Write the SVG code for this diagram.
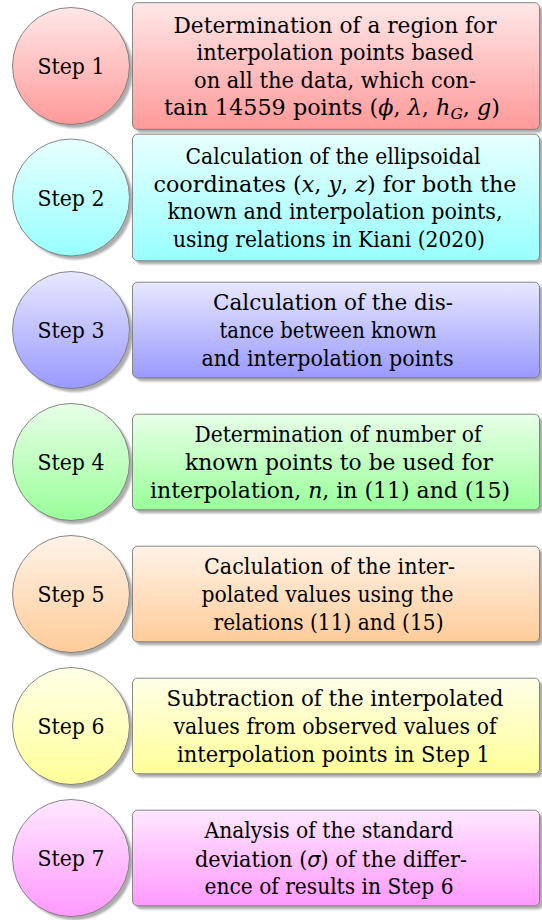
<svg xmlns="http://www.w3.org/2000/svg" width="542" height="920" viewBox="0 0 542 920">
<defs>
  <linearGradient id="gRed" x1="0" y1="0" x2="0" y2="1"><stop offset="0" stop-color="#ffe8e8"/><stop offset="1" stop-color="#ff9999"/></linearGradient>
  <linearGradient id="gCyan" x1="0" y1="0" x2="0" y2="1"><stop offset="0" stop-color="#e8ffff"/><stop offset="1" stop-color="#99ffff"/></linearGradient>
  <linearGradient id="gBlue" x1="0" y1="0" x2="0" y2="1"><stop offset="0" stop-color="#e8e8ff"/><stop offset="1" stop-color="#9999ff"/></linearGradient>
  <linearGradient id="gGreen" x1="0" y1="0" x2="0" y2="1"><stop offset="0" stop-color="#e8ffe8"/><stop offset="1" stop-color="#99ff99"/></linearGradient>
  <linearGradient id="gOrange" x1="0" y1="0" x2="0" y2="1"><stop offset="0" stop-color="#fff3e8"/><stop offset="1" stop-color="#ffcc99"/></linearGradient>
  <linearGradient id="gYellow" x1="0" y1="0" x2="0" y2="1"><stop offset="0" stop-color="#ffffe8"/><stop offset="1" stop-color="#ffff99"/></linearGradient>
  <linearGradient id="gMagenta" x1="0" y1="0" x2="0" y2="1"><stop offset="0" stop-color="#ffe8ff"/><stop offset="1" stop-color="#ff99ff"/></linearGradient>
  <filter id="blur" x="-10%" y="-10%" width="120%" height="120%"><feGaussianBlur stdDeviation="1.2"/></filter>
</defs>
<style>
  .sh { fill: #000; opacity: 0.32; filter: url(#blur); }
  .shape { stroke: #7a7a7a; stroke-width: 0.9; }
  text { font-family: 'DejaVu Serif', serif; font-size: 21.5px; text-anchor: middle; fill: #000; }
  .m { font-family: 'DejaVu Serif', serif; font-style: italic; }
  .g { font-family: 'DejaVu Sans', sans-serif; font-style: italic; }
  .sub { font-size: 15px; font-style: italic; }
</style>

<g id="step1">
  <circle class="sh" cx="74.5" cy="69.5" r="58.5"/>
  <circle class="shape" cx="71" cy="66" r="58.5" fill="url(#gRed)"/>
  <text x="71" y="74" textLength="67" lengthAdjust="spacingAndGlyphs">Step 1</text>
  <rect class="sh" x="136" y="6.2" width="407" height="126.6" rx="5"/>
  <rect class="shape" x="132.5" y="2.7" width="407" height="126.6" rx="5" fill="url(#gRed)"/>
  <text x="335" y="32.6" textLength="323" lengthAdjust="spacingAndGlyphs">Determination of a region for</text>
  <text x="335" y="60.2" textLength="277" lengthAdjust="spacingAndGlyphs">interpolation points based</text>
  <text x="335" y="87.8" textLength="282" lengthAdjust="spacingAndGlyphs">on all the data, which con-</text>
  <text x="332" y="115.4" textLength="336" lengthAdjust="spacingAndGlyphs">tain 14559 points (<tspan class="m">ϕ</tspan>, <tspan class="m">λ</tspan>, <tspan class="m">h</tspan><tspan class="sub" dy="4">G</tspan><tspan dy="-4">, </tspan><tspan class="m">g</tspan>)</text>
</g>

<g id="step2">
  <circle class="sh" cx="74.5" cy="201" r="58.5"/>
  <circle class="shape" cx="71" cy="197.5" r="58.5" fill="url(#gCyan)"/>
  <text x="71" y="205.5" textLength="67" lengthAdjust="spacingAndGlyphs">Step 2</text>
  <rect class="sh" x="136" y="137.7" width="407" height="126.6" rx="5"/>
  <rect class="shape" x="132.5" y="134.2" width="407" height="126.6" rx="5" fill="url(#gCyan)"/>
  <text x="333" y="164.1" textLength="295" lengthAdjust="spacingAndGlyphs">Calculation of the ellipsoidal</text>
  <text x="335" y="191.7" textLength="363" lengthAdjust="spacingAndGlyphs">coordinates (<tspan class="m">x</tspan>, <tspan class="m">y</tspan>, <tspan class="m">z</tspan>) for both the</text>
  <text x="335" y="219.3" textLength="335" lengthAdjust="spacingAndGlyphs">known and interpolation points,</text>
  <text x="329" y="246.9" textLength="312" lengthAdjust="spacingAndGlyphs">using relations in Kiani (2020)</text>
</g>

<g id="step3">
  <circle class="sh" cx="74.5" cy="333.5" r="58.5"/>
  <circle class="shape" cx="71" cy="330" r="58.5" fill="url(#gBlue)"/>
  <text x="71" y="338" textLength="67" lengthAdjust="spacingAndGlyphs">Step 3</text>
  <rect class="sh" x="136" y="285.7" width="407" height="95.6" rx="5"/>
  <rect class="shape" x="132.5" y="282.2" width="407" height="95.6" rx="5" fill="url(#gBlue)"/>
  <text x="333" y="310.4" textLength="240" lengthAdjust="spacingAndGlyphs">Calculation of the dis-</text>
  <text x="328" y="338" textLength="217" lengthAdjust="spacingAndGlyphs">tance between known</text>
  <text x="327.5" y="365.6" textLength="252" lengthAdjust="spacingAndGlyphs">and interpolation points</text>
</g>

<g id="step4">
  <circle class="sh" cx="74.5" cy="465.5" r="58.5"/>
  <circle class="shape" cx="71" cy="462" r="58.5" fill="url(#gGreen)"/>
  <text x="71" y="470" textLength="67" lengthAdjust="spacingAndGlyphs">Step 4</text>
  <rect class="sh" x="136" y="417.7" width="407" height="95.6" rx="5"/>
  <rect class="shape" x="132.5" y="414.2" width="407" height="95.6" rx="5" fill="url(#gGreen)"/>
  <text x="338" y="442.4" textLength="287" lengthAdjust="spacingAndGlyphs">Determination of number of</text>
  <text x="339" y="470" textLength="308" lengthAdjust="spacingAndGlyphs">known points to be used for</text>
  <text x="330" y="497.6" textLength="360" lengthAdjust="spacingAndGlyphs">interpolation, <tspan class="m">n</tspan>, in (11) and (15)</text>
</g>

<g id="step5">
  <circle class="sh" cx="74.5" cy="597.5" r="58.5"/>
  <circle class="shape" cx="71" cy="594" r="58.5" fill="url(#gOrange)"/>
  <text x="71" y="602" textLength="67" lengthAdjust="spacingAndGlyphs">Step 5</text>
  <rect class="sh" x="136" y="549.7" width="407" height="95.6" rx="5"/>
  <rect class="shape" x="132.5" y="546.2" width="407" height="95.6" rx="5" fill="url(#gOrange)"/>
  <text x="329.5" y="574.4" textLength="251" lengthAdjust="spacingAndGlyphs">Caclulation of the inter-</text>
  <text x="327.5" y="602" textLength="252" lengthAdjust="spacingAndGlyphs">polated values using the</text>
  <text x="328.5" y="629.6" textLength="230" lengthAdjust="spacingAndGlyphs">relations (11) and (15)</text>
</g>

<g id="step6">
  <circle class="sh" cx="74.5" cy="729.5" r="58.5"/>
  <circle class="shape" cx="71" cy="726" r="58.5" fill="url(#gYellow)"/>
  <text x="71" y="734" textLength="67" lengthAdjust="spacingAndGlyphs">Step 6</text>
  <rect class="sh" x="136" y="681.7" width="407" height="95.6" rx="5"/>
  <rect class="shape" x="132.5" y="678.2" width="407" height="95.6" rx="5" fill="url(#gYellow)"/>
  <text x="335" y="706.4" textLength="337" lengthAdjust="spacingAndGlyphs">Subtraction of the interpolated</text>
  <text x="335" y="734" textLength="323" lengthAdjust="spacingAndGlyphs">values from observed values of</text>
  <text x="333.5" y="761.6" textLength="313" lengthAdjust="spacingAndGlyphs">interpolation points in Step 1</text>
</g>

<g id="step7">
  <circle class="sh" cx="74.5" cy="861.5" r="58.5"/>
  <circle class="shape" cx="71" cy="858" r="58.5" fill="url(#gMagenta)"/>
  <text x="71" y="866" textLength="67" lengthAdjust="spacingAndGlyphs">Step 7</text>
  <rect class="sh" x="136" y="813.7" width="407" height="95.6" rx="5"/>
  <rect class="shape" x="132.5" y="810.2" width="407" height="95.6" rx="5" fill="url(#gMagenta)"/>
  <text x="329" y="838" textLength="249" lengthAdjust="spacingAndGlyphs">Analysis of the standard</text>
  <text x="331" y="866.5" textLength="272" lengthAdjust="spacingAndGlyphs">deviation (<tspan class="g">σ</tspan>) of the differ-</text>
  <text x="329" y="893.6" textLength="249" lengthAdjust="spacingAndGlyphs">ence of results in Step 6</text>
</g>

<g id="connectors"></g>
</svg>
